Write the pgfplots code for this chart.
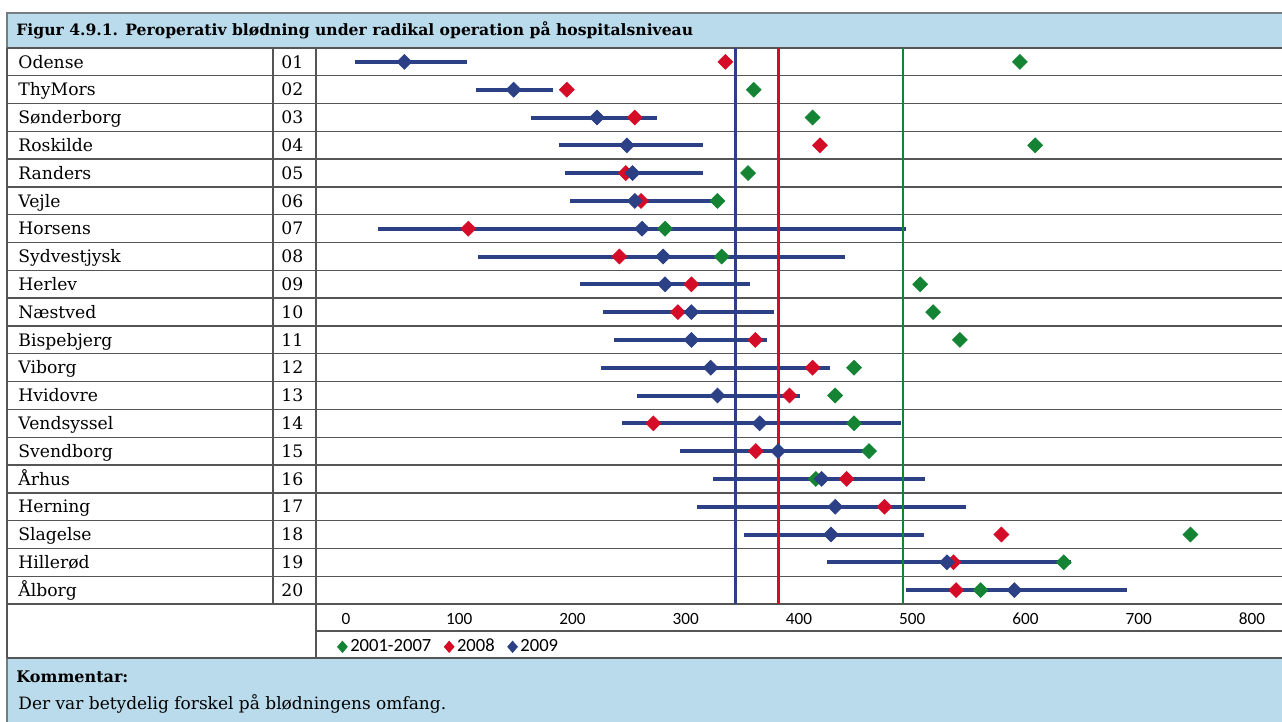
\documentclass[border=0pt]{standalone}
\usepackage{fontspec}
\setmainfont{DejaVu Serif}
\newfontfamily\carlito{Carlito}
\usepackage{pgfplots}
\usepackage{pgfplotstable}
\pgfplotsset{compat=1.18}
\definecolor{headblue}{RGB}{186,219,236}
\definecolor{navy}{RGB}{44,64,134}
\definecolor{dkred}{RGB}{212,12,40}
\definecolor{dkgreen}{RGB}{20,132,52}
\definecolor{rule}{RGB}{85,85,85}

% row, bar low/high, 2009, 2008, 2001-2007
\pgfplotstableread{
row lo    hi    b     r     g
1   8     106.5 51.5  335   595
2   115   183   148   195   360
3   163   275   221.6 255   412
4   188   315   248   418.5 608.5
5   193   315   253   247   355
6   198   327   255   260.5 328
7   28    494.5 261.4 108   281.7
8   116.6 440.4 280   241.4 331.7
9   207   356.5 281.7 305   507
10  226.6 377.5 305   293   518.4
11  237   371.6 305   361.4 542
12  225   427.3 322   412   448.6
13  257   401   328   391.6 431.9
14  243.4 490   365.3 271.4 448.6
15  295.2 462   381.5 361.8 461.8
16  323.8 511   420   442   414.8
17  310   547.3 432   475.5 nan
18  351.4 510   428.3 578.7 745.6
19  424.7 640   530.6 536.4 633.8
20  494.5 690   590.2 538.7 560.3
}\blod

\begin{document}
\begin{tikzpicture}
% layout in pixels of the reference, y downwards
\begin{scope}[x=0.5pt,y=-0.5pt]
\useasboundingbox (0,0) rectangle (1282,722);
\fill[headblue] (7,13) rectangle (1282,48);
\fill[headblue] (7,658) rectangle (1282,722);
\draw[rule!70!headblue, line width=0.6pt] (7,722) -- (7,13) -- (1282,13);
\foreach \k in {0,...,20}
  \draw[rule, line width=0.7pt] (7,{48+\k*27.8}) -- (1282,{48+\k*27.8});
\draw[rule, line width=0.7pt] (7,48) -- (7,658);
\draw[rule, line width=0.7pt] (273,48) -- (273,604);
\draw[rule, line width=0.7pt] (316,48) -- (316,658);
\draw[rule, line width=0.7pt] (316,631) -- (1282,631);
\draw[rule, line width=0.7pt] (7,658) -- (1282,658);
\node[anchor=west, inner sep=0pt, font=\bfseries\fontsize{7.8}{10}\selectfont] at (16,30)
  {Figur 4.9.1. Peroperativ blødning under radikal operation på hospitalsniveau};
\foreach \n/\c [count=\i] in {Odense/01, ThyMors/02, Sønderborg/03, Roskilde/04,
  Randers/05, Vejle/06, Horsens/07, Sydvestjysk/08, Herlev/09, Næstved/10,
  Bispebjerg/11, Viborg/12, Hvidovre/13, Vendsyssel/14, Svendborg/15, Århus/16,
  Herning/17, Slagelse/18, Hillerød/19, Ålborg/20} {
  \node[anchor=west, inner sep=0pt, text height=1.5ex, text depth=0.3ex,
    font=\fontsize{8.6}{10}\selectfont] at (18,{48+(\i-0.5)*27.8}) {\n};
  \node[anchor=west, inner sep=0pt, text height=1.5ex, text depth=0.3ex,
    font=\fontsize{8.6}{10}\selectfont] at (281,{48+(\i-0.5)*27.8}) {\c};
}
\node[anchor=west, inner sep=0pt, font=\bfseries\fontsize{8}{10}\selectfont] at (16,677) {Kommentar:};
\node[anchor=west, inner sep=0pt, font=\fontsize{8.5}{10}\selectfont] at (18,704)
  {Der var betydelig forskel på blødningens omfang.};
\end{scope}

\begin{axis}[
  at={(158pt,-302pt)}, anchor=south west,
  scale only axis,
  width=482pt, height=278pt,
  xmin=-26.5, xmax=824.7,
  ymin=0.5, ymax=20.5, y dir=reverse,
  axis line style={draw=none},
  tick style={draw=none},
  ytick=\empty,
  xtick={0,100,...,800},
  xticklabel style={font=\carlito\fontsize{8.6}{10}\selectfont, anchor=base, yshift=-10pt,
    /pgf/number format/assume math mode=true},
  clip=false,
  legend style={at={(axis description cs:0.022,-0.077)}, anchor=west,
    draw=none, fill=none, font=\carlito\fontsize{9.3}{10}\selectfont,
    legend columns=3, inner sep=0pt,
    nodes={inner xsep=1.5pt},
    /tikz/every even column/.append style={column sep=5pt}},
  legend cell align=left,
  legend image code/.code={\draw[#1] plot coordinates {(0.15cm,0cm)};},
]
% ranges for 2009
\addplot[forget plot, only marks, mark=none,
  error bars/.cd, x dir=both, x explicit, error mark=none,
  error bar style={line width=2pt, draw=navy}]
  table[x=b, y=row, x error plus expr=\thisrow{hi}-\thisrow{b},
        x error minus expr=\thisrow{b}-\thisrow{lo}] {\blod};
% reference lines
\addplot[forget plot, navy, line width=1.2pt] coordinates {(344,0.5) (344,20.5)};
\addplot[forget plot, dkred, line width=1.2pt] coordinates {(382,0.5) (382,20.5)};
\addplot[forget plot, dkgreen, line width=1.2pt] coordinates {(492,0.5) (492,20.5)};
% points
\addplot[forget plot, only marks, unbounded coords=discard, mark=square*, mark size=2.6pt,
  mark options={rotate=45, draw=dkgreen, fill=dkgreen}] table[x=g, y=row] {\blod};
\addplot[forget plot, only marks, mark=square*, mark size=2.6pt,
  mark options={rotate=45, draw=dkred, fill=dkred}] table[x=r, y=row] {\blod};
\addplot[forget plot, only marks, mark=square*, mark size=2.6pt,
  mark options={rotate=45, draw=navy, fill=navy}] table[x=b, y=row] {\blod};
% legend
\addlegendimage{only marks, mark=diamond*, mark size=2.8pt, mark options={xscale=1.15}, draw=dkgreen, fill=dkgreen}
\addlegendentry{2001-2007}
\addlegendimage{only marks, mark=diamond*, mark size=2.8pt, mark options={xscale=1.15}, draw=dkred, fill=dkred}
\addlegendentry{2008}
\addlegendimage{only marks, mark=diamond*, mark size=2.8pt, mark options={xscale=1.15}, draw=navy, fill=navy}
\addlegendentry{2009}
\end{axis}
\end{tikzpicture}
\end{document}
